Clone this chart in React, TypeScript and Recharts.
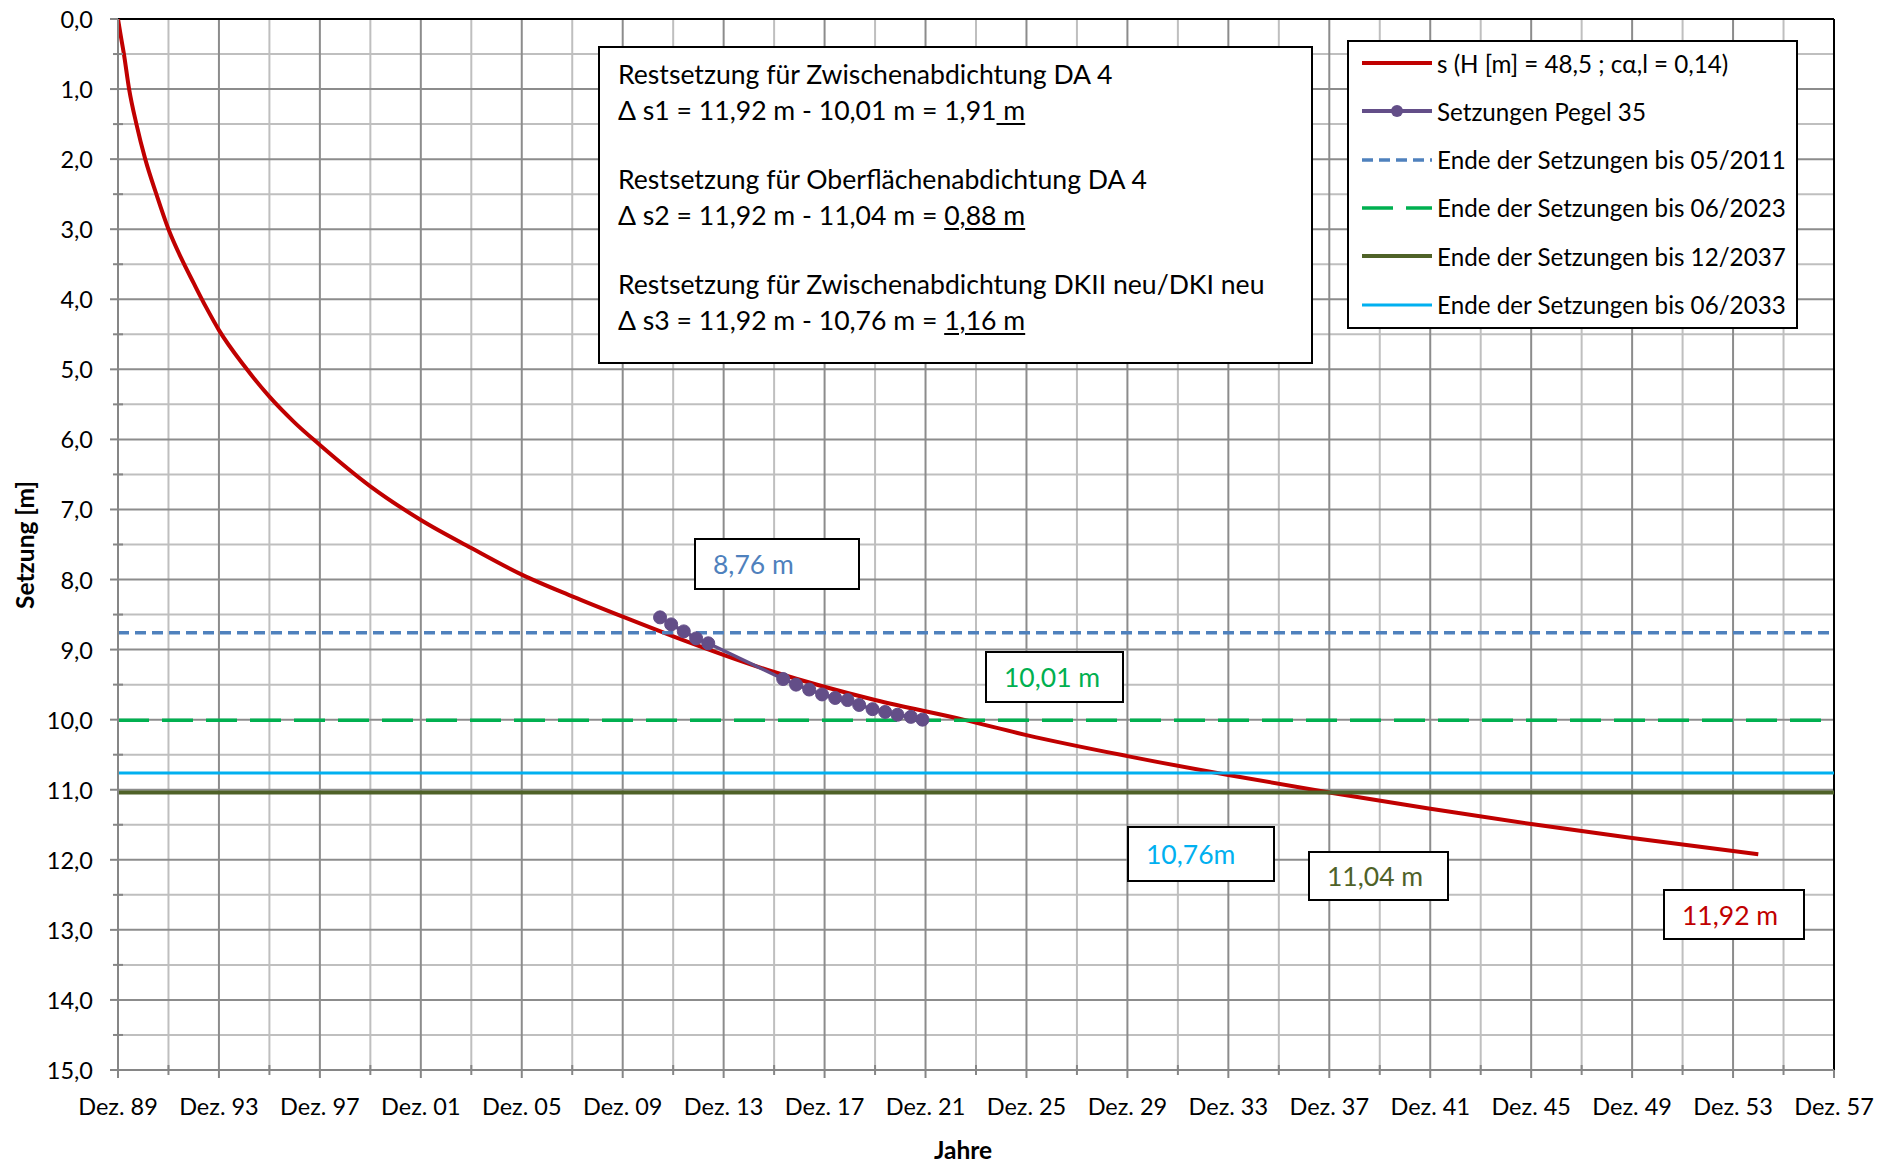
import {
  CartesianGrid,
  ComposedChart,
  Label,
  Legend,
  Line,
  ReferenceLine,
  XAxis,
  YAxis,
} from "recharts";

const FONT = "Lato, 'Open Sans', sans-serif";

// x = Jahre nach Dez. 1989
const X_MAJOR = [0, 4, 8, 12, 16, 20, 24, 28, 32, 36, 40, 44, 48, 52, 56, 60, 64, 68];
const X_MINOR = [2, 6, 10, 14, 18, 22, 26, 30, 34, 38, 42, 46, 50, 54, 58, 62, 66];
const X_LABELS = [
  "Dez. 89", "Dez. 93", "Dez. 97", "Dez. 01", "Dez. 05", "Dez. 09",
  "Dez. 13", "Dez. 17", "Dez. 21", "Dez. 25", "Dez. 29", "Dez. 33",
  "Dez. 37", "Dez. 41", "Dez. 45", "Dez. 49", "Dez. 53", "Dez. 57",
];

const Y_MAJOR = [0, 1, 2, 3, 4, 5, 6, 7, 8, 9, 10, 11, 12, 13, 14, 15];
const Y_MINOR = [0.5, 1.5, 2.5, 3.5, 4.5, 5.5, 6.5, 7.5, 8.5, 9.5, 10.5, 11.5, 12.5, 13.5, 14.5];
const Y_LABELS = [
  "0,0", "1,0", "2,0", "3,0", "4,0", "5,0", "6,0", "7,0",
  "8,0", "9,0", "10,0", "11,0", "12,0", "13,0", "14,0", "15,0",
];

// Setzungskurve s (H = 48,5 m ; c_alpha,l = 0,14)
const CURVE_T = [0, 0.1, 0.23, 0.44, 0.73, 1.08, 1.52, 2, 2.5, 3, 3.5, 4, 5, 6, 7, 8, 10, 12, 14, 16, 18, 20, 22, 26, 30, 33.5, 36, 40, 44, 48, 52, 56, 60, 65];
const CURVE_S = [0, 0.22, 0.49, 1.0, 1.5, 2.0, 2.5, 3.0, 3.41, 3.77, 4.12, 4.44, 4.95, 5.39, 5.76, 6.08, 6.67, 7.15, 7.55, 7.93, 8.24, 8.53, 8.81, 9.32, 9.72, 10.0, 10.22, 10.52, 10.79, 11.04, 11.27, 11.49, 11.69, 11.92];

// Setzungen Pegel 35
const PEGEL_T = [21.48, 21.92, 22.42, 22.91, 23.39, 26.36, 26.87, 27.39, 27.9, 28.42, 28.91, 29.37, 29.9, 30.4, 30.89, 31.42, 31.88];
const PEGEL_S = [8.54, 8.64, 8.74, 8.84, 8.91, 9.42, 9.5, 9.57, 9.64, 9.69, 9.72, 9.79, 9.85, 9.89, 9.93, 9.96, 10.0];

// Ende der Setzungen (horizontale Linien)
const LEVEL_NAMES = [
  "Ende der Setzungen bis 05/2011",
  "Ende der Setzungen bis 06/2023",
  "Ende der Setzungen bis 12/2037",
  "Ende der Setzungen bis 06/2033",
];
const LEVEL_VALUES = [8.76, 10.01, 11.04, 10.76];
const LEVEL_LABELS = ["8,76 m", "10,01 m", "11,04 m", "10,76m"];
const END_LABEL = "11,92 m";

const CURVE_NAME = "s (H [m] = 48,5 ; cα,l = 0,14)";
const PEGEL_NAME = "Setzungen Pegel 35";

const RED = "#C00000";
const PURPLE = "#634E88";
const LEVEL_STYLES = [
  { color: "#4F81BD", dash: "11 6", width: 3.5 },
  { color: "#00B050", dash: "31 13", width: 3.5 },
  { color: "#4F6228", dash: undefined, width: 4 },
  { color: "#00B0F0", dash: undefined, width: 3 },
];

const X_MAX = 68;

const curveData = CURVE_T.map((t, i) => ({ t, s: CURVE_S[i] }));
const pegelData = PEGEL_T.map((t, i) => ({ t, s: PEGEL_S[i] }));
const levelData = LEVEL_VALUES.map((v) => [
  { t: 0, s: v },
  { t: X_MAX, s: v },
]);

const AXIS_GREY = "#868686";
const TICK_FONT = 23.5;

function XTick(props: any) {
  const { x, y, payload } = props;
  const idx = X_MAJOR.indexOf(payload.value);
  if (idx < 0) {
    return <line x1={x} x2={x} y1={y - 5} y2={y + 5} stroke={AXIS_GREY} strokeWidth={2} />;
  }
  return (
    <g>
      <line x1={x} x2={x} y1={y} y2={y + 8} stroke={AXIS_GREY} strokeWidth={2} />
      <text
        x={x}
        y={y + 36}
        textAnchor="middle"
        dominantBaseline="central"
        fontFamily={FONT}
        fontSize={TICK_FONT}
        fill="#000"
      >
        {X_LABELS[idx]}
      </text>
    </g>
  );
}

function YTick(props: any) {
  const { x, y, payload } = props;
  const idx = Y_MAJOR.indexOf(payload.value);
  if (idx < 0) {
    return <line x1={x - 5} x2={x + 5} y1={y} y2={y} stroke={AXIS_GREY} strokeWidth={2} />;
  }
  return (
    <g>
      <line x1={x - 8} x2={x} y1={y} y2={y} stroke={AXIS_GREY} strokeWidth={2} />
      <text
        x={x - 25}
        y={y}
        textAnchor="end"
        dominantBaseline="central"
        fontFamily={FONT}
        fontSize={TICK_FONT}
        fill="#000"
      >
        {Y_LABELS[idx]}
      </text>
    </g>
  );
}

function LegendBox() {
  const rows = [
    { name: CURVE_NAME, color: RED, dash: undefined as string | undefined, width: 4, dot: false },
    { name: PEGEL_NAME, color: PURPLE, dash: undefined, width: 4, dot: true },
    ...LEVEL_NAMES.map((name, i) => ({
      name,
      color: LEVEL_STYLES[i].color,
      dash: LEVEL_STYLES[i].dash,
      width: LEVEL_STYLES[i].width,
      dot: false,
    })),
  ];
  return (
    <div
      style={{
        width: 447,
        height: 285,
        border: "2px solid #000",
        background: "#fff",
        position: "relative",
        fontFamily: FONT,
      }}
    >
      {rows.map((r, i) => (
        <div
          key={r.name}
          style={{
            position: "absolute",
            left: 12,
            top: 21 + i * 48.3 - 16,
            height: 32,
            display: "flex",
            alignItems: "center",
            whiteSpace: "nowrap",
          }}
        >
          <svg width={72} height={32} style={{ display: "block" }}>
            <line
              x1={1}
              x2={71}
              y1={16}
              y2={16}
              stroke={r.color}
              strokeWidth={r.width}
              strokeDasharray={r.dash}
            />
            {r.dot && <circle cx={36} cy={16} r={6} fill={r.color} />}
          </svg>
          <span style={{ marginLeft: 4, fontSize: 24.2, color: "#000" }}>{r.name}</span>
        </div>
      ))}
    </div>
  );
}

function Box(props: {
  left: number;
  top: number;
  width: number;
  height: number;
  color: string;
  text: string;
}) {
  return (
    <div
      style={{
        position: "absolute",
        left: props.left,
        top: props.top,
        width: props.width,
        height: props.height,
        boxSizing: "border-box",
        border: "2px solid #000",
        background: "#fff",
        display: "flex",
        alignItems: "center",
        paddingLeft: 17,
        fontFamily: FONT,
        fontSize: 26.5,
        color: props.color,
        whiteSpace: "nowrap",
      }}
    >
      {props.text}
    </div>
  );
}

const u: React.CSSProperties = { textDecoration: "underline", textUnderlineOffset: 3 };

export default function App() {
  return (
    <div style={{ position: "absolute", left: 0, top: 0, width: 1892, height: 1163, background: "#fff" }}>
      <ComposedChart
        width={1892}
        height={1163}
        margin={{ top: 19, right: 58, bottom: 0, left: 0 }}
      >
        <CartesianGrid
          horizontalValues={Y_MINOR}
          verticalValues={X_MINOR}
          stroke="#BFBFBF"
          strokeWidth={2}
        />
        <CartesianGrid
          horizontalValues={Y_MAJOR}
          verticalValues={X_MAJOR}
          stroke="#8C8C8C"
          strokeWidth={2}
        />
        <XAxis
          dataKey="t"
          type="number"
          domain={[0, X_MAX]}
          ticks={[...X_MAJOR, ...X_MINOR].sort((a, b) => a - b)}
          interval={0}
          allowDataOverflow
          height={93}
          tickSize={0}
          tickMargin={0}
          tickLine={false}
          tick={XTick}
          axisLine={{ stroke: AXIS_GREY, strokeWidth: 2 }}
        >
          <Label
            content={() => (
              <text
                x={963}
                y={1149}
                textAnchor="middle"
                dominantBaseline="central"
                fontFamily={FONT}
                fontWeight="bold"
                fontSize={24.5}
              >
                Jahre
              </text>
            )}
          />
        </XAxis>
        <YAxis
          dataKey="s"
          type="number"
          reversed
          domain={[0, 15]}
          ticks={[...Y_MAJOR, ...Y_MINOR].sort((a, b) => a - b)}
          interval={0}
          allowDataOverflow
          width={118}
          tickSize={0}
          tickMargin={0}
          tickLine={false}
          tick={YTick}
          axisLine={{ stroke: AXIS_GREY, strokeWidth: 2 }}
        >
          <Label
            content={() => (
              <text
                x={24}
                y={545}
                transform="rotate(-90 24 545)"
                textAnchor="middle"
                dominantBaseline="central"
                fontFamily={FONT}
                fontWeight="bold"
                fontSize={24.5}
              >
                Setzung [m]
              </text>
            )}
          />
        </YAxis>
        <ReferenceLine y={0} stroke="#000" strokeWidth={2} />
        <ReferenceLine x={X_MAX} stroke="#000" strokeWidth={2} />
        <Line
          data={curveData}
          dataKey="s"
          name={CURVE_NAME}
          type="monotone"
          stroke={RED}
          strokeWidth={4}
          dot={false}
          activeDot={false}
          isAnimationActive={false}
        />
        <Line
          data={pegelData}
          dataKey="s"
          name={PEGEL_NAME}
          type="linear"
          stroke={PURPLE}
          strokeWidth={3.5}
          dot={{ r: 6.5, fill: PURPLE, stroke: PURPLE, strokeWidth: 1 }}
          activeDot={false}
          isAnimationActive={false}
        />
        {levelData.map((d, i) => (
          <Line
            key={LEVEL_NAMES[i]}
            data={d}
            dataKey="s"
            name={LEVEL_NAMES[i]}
            type="linear"
            stroke={LEVEL_STYLES[i].color}
            strokeWidth={LEVEL_STYLES[i].width}
            strokeDasharray={LEVEL_STYLES[i].dash}
            dot={false}
            activeDot={false}
            isAnimationActive={false}
          />
        ))}
        <Legend
          layout="vertical"
          align="center"
          verticalAlign="middle"
          wrapperStyle={{ left: 1347, top: 40, width: 451, height: 289 }}
          content={() => <LegendBox />}
        />
      </ComposedChart>

      <div
        style={{
          position: "absolute",
          left: 598,
          top: 46,
          width: 715,
          height: 318,
          boxSizing: "border-box",
          border: "2px solid #000",
          background: "#fff",
          fontFamily: FONT,
          fontSize: 26.6,
          color: "#000",
          whiteSpace: "nowrap",
        }}
      >
        {[
          [
            "Restsetzung für Zwischenabdichtung DA 4",
            <span key="a">Δ s1 = 11,92 m - 10,01 m = 1,91<span style={u}> m</span></span>,
          ],
          [
            "Restsetzung für Oberflächenabdichtung DA 4",
            <span key="b">Δ s2 = 11,92 m - 11,04 m = <span style={u}>0,88 m</span></span>,
          ],
          [
            "Restsetzung für Zwischenabdichtung DKII neu/DKI neu",
            <span key="c">Δ s3 = 11,92 m - 10,76 m = <span style={u}>1,16 m</span></span>,
          ],
        ].map((pair, i) => (
          <div key={i}>
            <div style={{ position: "absolute", left: 18, top: 9 + i * 105, lineHeight: "34px" }}>{pair[0]}</div>
            <div style={{ position: "absolute", left: 18, top: 45 + i * 105, lineHeight: "34px" }}>{pair[1]}</div>
          </div>
        ))}
      </div>

      <Box left={694} top={538} width={166} height={52} color={LEVEL_STYLES[0].color} text={LEVEL_LABELS[0]} />
      <Box left={985} top={651} width={139} height={52} color={LEVEL_STYLES[1].color} text={LEVEL_LABELS[1]} />
      <Box left={1127} top={826} width={148} height={56} color={LEVEL_STYLES[3].color} text={LEVEL_LABELS[3]} />
      <Box left={1308} top={851} width={141} height={50} color={LEVEL_STYLES[2].color} text={LEVEL_LABELS[2]} />
      <Box left={1663} top={889} width={142} height={51} color={RED} text={END_LABEL} />
    </div>
  );
}
